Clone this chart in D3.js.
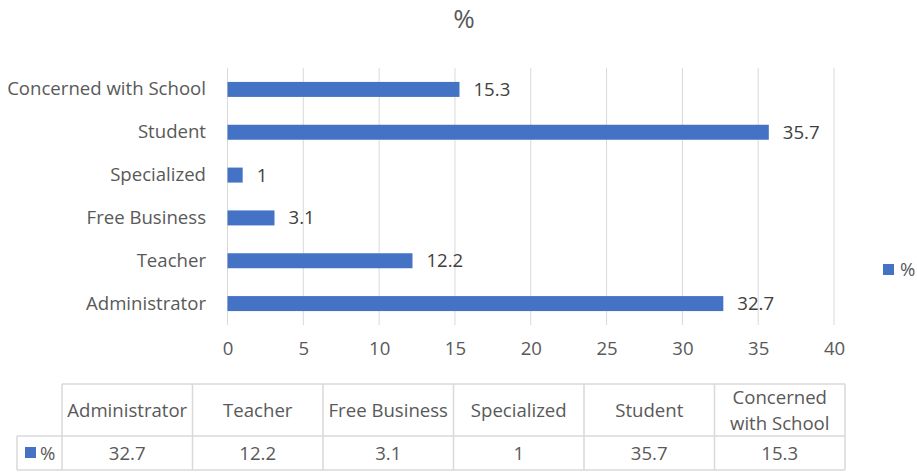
<!DOCTYPE html>
<html>
<head>
<meta charset="utf-8">
<script src="https://cdn.jsdelivr.net/npm/d3@7"></script>
<style>
  html, body { margin: 0; padding: 0; background: #ffffff; }
  svg { display: block; font-family: "Open Sans", "Noto Sans", sans-serif; }
</style>
</head>
<body>
<svg id="chart" width="917" height="472"></svg>
<script>
// Occupation breakdown, in percent
const categories = ["Administrator", "Teacher", "Free Business", "Specialized", "Student", "Concerned with School"];
const values = [32.7, 12.2, 3.1, 1, 35.7, 15.3];
const xTicks = [0, 5, 10, 15, 20, 25, 30, 35, 40];
const seriesName = "%";
const chartTitle = "%";

const barColor = "#4472C4";
const gridColor = "#d9d9d9";
const labelColor = "#595959";
const valueColor = "#404040";
const fontSize = 18.6;

const svg = d3.select("#chart");

const x = d3.scaleLinear().domain([0, 40]).range([227.5, 834]);
// first category at the bottom, like a horizontal bar chart
const y = d3.scaleBand()
  .domain(categories.slice().reverse())
  .range([68, 325])
  .paddingInner(0.65)
  .paddingOuter(0.325);

// title
svg.append("text")
  .attr("x", 464).attr("y", 28)
  .attr("text-anchor", "middle")
  .attr("fill", labelColor)
  .attr("font-size", 26)
  .text(chartTitle);

// vertical gridlines
svg.append("g")
  .selectAll("line")
  .data(xTicks)
  .join("line")
  .attr("x1", d => x(d)).attr("x2", d => x(d))
  .attr("y1", 68).attr("y2", 325)
  .attr("stroke", gridColor).attr("stroke-width", 1);

// x axis tick labels
const xAxis = svg.append("g")
  .attr("transform", "translate(0,325)")
  .call(d3.axisBottom(x).tickValues(xTicks).tickSize(0).tickPadding(17).tickFormat(d3.format("d")));
xAxis.select(".domain").remove();
xAxis.selectAll("text")
  .attr("fill", labelColor)
  .attr("font-size", fontSize)
  .attr("font-family", "Open Sans, sans-serif");

// y axis category labels
const yAxis = svg.append("g")
  .attr("transform", "translate(206,0)")
  .call(d3.axisLeft(y).tickSize(0).tickPadding(0));
yAxis.select(".domain").remove();
yAxis.selectAll("text")
  .attr("fill", labelColor)
  .attr("font-size", fontSize)
  .attr("font-family", "Open Sans, sans-serif");

// bars
const rows = categories.map((c, i) => ({ cat: c, val: values[i] }));
svg.append("g")
  .selectAll("rect")
  .data(rows)
  .join("rect")
  .attr("x", x(0))
  .attr("y", d => y(d.cat))
  .attr("width", d => x(d.val) - x(0))
  .attr("height", y.bandwidth())
  .attr("fill", barColor);

// value labels
svg.append("g")
  .selectAll("text")
  .data(rows)
  .join("text")
  .attr("x", d => x(d.val) + 14)
  .attr("y", d => y(d.cat) + y.bandwidth() / 2)
  .attr("dy", "0.35em")
  .attr("fill", valueColor)
  .attr("font-size", fontSize)
  .text(d => d.val);

// legend on the right
const legend = svg.append("g").attr("transform", "translate(883,264)");
legend.append("rect").attr("width", 11).attr("height", 11).attr("fill", barColor);
legend.append("text")
  .attr("x", 17).attr("y", 5.5).attr("dy", "0.35em")
  .attr("fill", labelColor).attr("font-size", fontSize)
  .text(seriesName);

// data table under the chart
const tableLeft = 62, tableRight = 845, keyLeft = 17;
const headTop = 384, headBottom = 436, rowBottom = 470;
const colW = (tableRight - tableLeft) / categories.length;
const tbl = svg.append("g");
const border = (x1, y1, x2, y2) => tbl.append("line")
  .attr("x1", x1).attr("y1", y1).attr("x2", x2).attr("y2", y2)
  .attr("stroke", gridColor).attr("stroke-width", 1.5);

border(tableLeft, headTop, tableRight, headTop);
border(keyLeft, headBottom, tableRight, headBottom);
border(keyLeft, rowBottom, tableRight, rowBottom);
border(keyLeft, headBottom, keyLeft, rowBottom);
for (let i = 0; i <= categories.length; i++) {
  border(tableLeft + i * colW, headTop, tableLeft + i * colW, rowBottom);
}

categories.forEach((c, i) => {
  const cx = tableLeft + (i + 0.5) * colW;
  const t = tbl.append("text")
    .attr("text-anchor", "middle")
    .attr("fill", labelColor)
    .attr("font-size", fontSize);
  t.text(c);
  let lines = [c];
  if (t.node().getComputedTextLength() > colW - 8) {
    // wrap long header into two lines
    const words = c.split(" ");
    lines = [words[0], words.slice(1).join(" ")];
  }
  t.text(null);
  const lh = 26;
  const midY = (headTop + headBottom) / 2;
  lines.forEach((ln, k) => {
    t.append("tspan")
      .attr("x", cx)
      .attr("y", midY + (k - (lines.length - 1) / 2) * lh)
      .attr("dy", "0.35em")
      .text(ln);
  });

  tbl.append("text")
    .attr("x", cx)
    .attr("y", (headBottom + rowBottom) / 2)
    .attr("dy", "0.35em")
    .attr("text-anchor", "middle")
    .attr("fill", labelColor)
    .attr("font-size", fontSize)
    .text(values[i]);
});

// legend key inside the table
tbl.append("rect").attr("x", 25).attr("y", 447).attr("width", 11).attr("height", 11).attr("fill", barColor);
tbl.append("text")
  .attr("x", 40).attr("y", (headBottom + rowBottom) / 2).attr("dy", "0.35em")
  .attr("fill", labelColor).attr("font-size", fontSize)
  .text(seriesName);
</script>
</body>
</html>
